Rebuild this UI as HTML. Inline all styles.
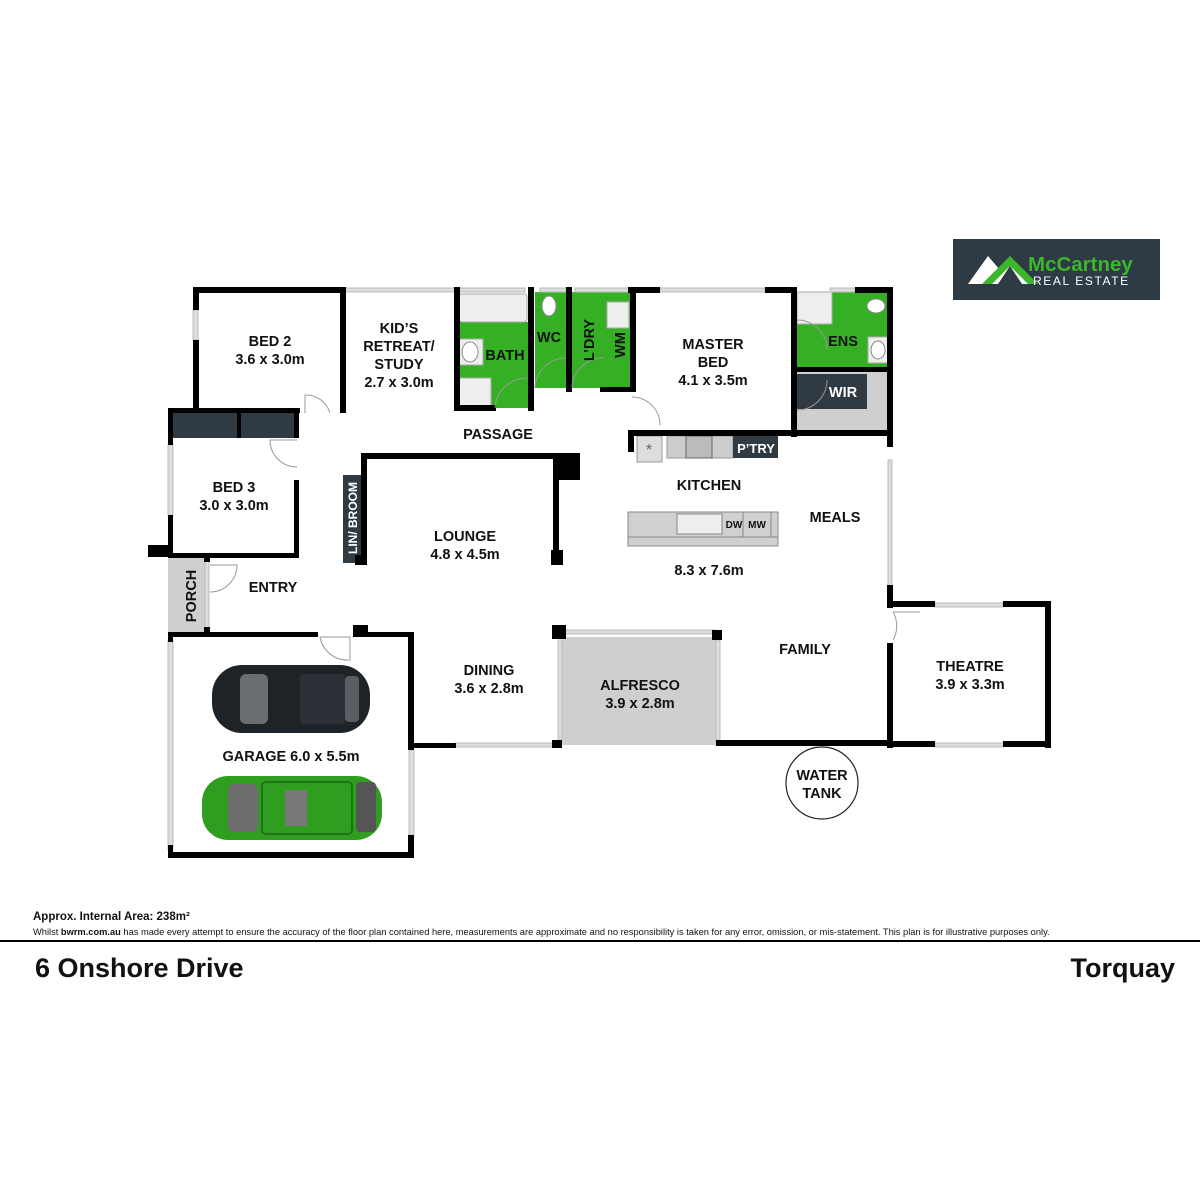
<!DOCTYPE html>
<html><head><meta charset="utf-8"><style>
html,body{margin:0;padding:0;background:#fff;}
svg{display:block;}
text{font-family:"Liberation Sans",Arial,sans-serif;font-weight:bold;fill:#111;}
.t{font-size:14.5px;text-anchor:middle;}
</style></head><body>
<svg width="1200" height="1200" viewBox="0 0 1200 1200" xmlns="http://www.w3.org/2000/svg">
<rect width="1200" height="1200" fill="#fff"/>
<rect x="458" y="322" width="72" height="86" fill="#35b025"/>
<rect x="535" y="292" width="31" height="96" fill="#35b025"/>
<rect x="572" y="292" width="60" height="96" fill="#35b025"/>
<rect x="797" y="292" width="93" height="75" fill="#35b025"/>
<rect x="797" y="372" width="93" height="58" fill="#cfcfcf"/>
<rect x="797" y="374" width="70" height="35" fill="#2f3a42"/>
<rect x="172" y="413" width="124" height="25" fill="#2f3a42"/>
<rect x="237" y="413" width="4" height="25" fill="#000"/>
<rect x="343" y="475" width="20" height="88" fill="#2f3a42"/>
<rect x="168" y="558" width="40" height="74" fill="#cfcfcf"/>
<rect x="562" y="637" width="154" height="108" fill="#cfcfcf"/>
<rect x="459" y="294" width="68" height="28" rx="3" fill="#eee" stroke="#aaa"/>
<rect x="459" y="339" width="24" height="26" fill="#eee" stroke="#aaa"/>
<ellipse cx="470" cy="352" rx="8" ry="10" fill="#fff" stroke="#888"/>
<rect x="459" y="378" width="32" height="30" fill="#eee" stroke="#aaa"/>
<ellipse cx="549" cy="306" rx="7" ry="10" fill="#fff" stroke="#888"/>
<rect x="607" y="302" width="22" height="26" fill="#eee" stroke="#aaa"/>
<rect x="797" y="292" width="35" height="32" fill="#eee" stroke="#aaa"/>
<ellipse cx="876" cy="306" rx="9" ry="7" fill="#fff" stroke="#888"/>
<rect x="868" y="337" width="21" height="26" fill="#eee" stroke="#aaa"/>
<ellipse cx="878" cy="350" rx="7" ry="9" fill="#fff" stroke="#888"/>
<rect x="637" y="436" width="25" height="26" fill="#ddd" stroke="#999"/>
<text x="649" y="455" style="font-size:16px;text-anchor:middle;font-weight:normal;fill:#666">*</text>
<rect x="667" y="436" width="66" height="22" fill="#ccc" stroke="#999"/>
<rect x="686" y="436" width="26" height="22" fill="#bbb" stroke="#666"/>
<rect x="733" y="436" width="45" height="22" fill="#2f3a42"/>
<rect x="628" y="512" width="150" height="34" fill="#d0d0d0" stroke="#888"/>
<line x1="628" y1="537" x2="778" y2="537" stroke="#888"/>
<rect x="677" y="514" width="45" height="20" fill="#eee" stroke="#888"/>
<line x1="743" y1="512" x2="743" y2="537" stroke="#888"/>
<line x1="771" y1="512" x2="771" y2="537" stroke="#888"/>
<g fill="#ddd" stroke="#bbb" stroke-width="1">
<rect x="345" y="288" width="110" height="4"/>
<rect x="455" y="288" width="70" height="4"/>
<rect x="540" y="288" width="30" height="4"/>
<rect x="575" y="288" width="55" height="4"/>
<rect x="660" y="288" width="105" height="4"/>
<rect x="830" y="288" width="25" height="4"/>
<rect x="193" y="310" width="5" height="30"/>
<rect x="168" y="445" width="5" height="70"/>
<rect x="168" y="640" width="5" height="210"/>
<rect x="409" y="750" width="5" height="85"/>
<rect x="455" y="743" width="100" height="4"/>
<rect x="565" y="630" width="150" height="4"/>
<rect x="558" y="640" width="4" height="100"/>
<rect x="716" y="640" width="4" height="100"/>
<rect x="888" y="460" width="4" height="140"/>
<rect x="935" y="603" width="68" height="4"/>
<rect x="935" y="743" width="68" height="4"/>
<rect x="205" y="560" width="4" height="70"/>
</g>
<g fill="#000">
<rect x="193" y="287" width="152" height="6"/>
<rect x="193" y="287" width="6" height="23"/>
<rect x="193" y="340" width="6" height="73"/>
<rect x="340" y="287" width="6" height="126"/>
<rect x="168" y="408" width="132" height="5"/>
<rect x="168" y="408" width="5" height="37"/>
<rect x="294" y="408" width="5" height="30"/>
<rect x="294" y="480" width="5" height="78"/>
<rect x="168" y="515" width="5" height="43"/>
<rect x="148" y="545" width="22" height="12"/>
<rect x="168" y="553" width="131" height="5"/>
<rect x="454" y="287" width="6" height="124"/>
<rect x="456" y="405" width="40" height="6"/>
<rect x="528" y="287" width="6" height="124"/>
<rect x="566" y="287" width="6" height="105"/>
<rect x="600" y="387" width="34" height="5"/>
<rect x="630" y="287" width="6" height="105"/>
<rect x="628" y="287" width="32" height="6"/>
<rect x="765" y="287" width="30" height="6"/>
<rect x="855" y="287" width="38" height="6"/>
<rect x="791" y="287" width="6" height="150"/>
<rect x="887" y="287" width="6" height="160"/>
<rect x="628" y="430" width="265" height="6"/>
<rect x="628" y="430" width="6" height="22"/>
<rect x="791" y="367" width="102" height="5"/>
<rect x="363" y="453" width="215" height="6"/>
<rect x="361" y="453" width="6" height="112"/>
<rect x="553" y="453" width="6" height="112"/>
<rect x="557" y="453" width="23" height="27"/>
<rect x="551" y="550" width="12" height="15"/>
<rect x="355" y="555" width="12" height="10"/>
<rect x="168" y="632" width="150" height="5"/>
<rect x="168" y="632" width="5" height="10"/>
<rect x="353" y="625" width="15" height="12"/>
<rect x="353" y="632" width="61" height="5"/>
<rect x="408" y="632" width="6" height="118"/>
<rect x="408" y="743" width="48" height="5"/>
<rect x="408" y="835" width="6" height="23"/>
<rect x="168" y="852" width="246" height="6"/>
<rect x="168" y="845" width="5" height="13"/>
<rect x="552" y="625" width="14" height="14"/>
<rect x="712" y="630" width="10" height="10"/>
<rect x="552" y="740" width="10" height="8"/>
<rect x="716" y="740" width="175" height="6"/>
<rect x="887" y="585" width="6" height="23"/>
<rect x="887" y="643" width="6" height="105"/>
<rect x="887" y="601" width="48" height="6"/>
<rect x="1003" y="601" width="48" height="6"/>
<rect x="1045" y="601" width="6" height="147"/>
<rect x="887" y="741" width="48" height="6"/>
<rect x="1003" y="741" width="48" height="6"/>
<rect x="204" y="556" width="6" height="6"/>
<rect x="204" y="627" width="6" height="6"/>
</g>
<g fill="none" stroke="#999" stroke-width="1">
<path d="M305 413 L305 395 A25 25 0 0 1 330 413"/>
<path d="M297 440 L270 440 A27 27 0 0 0 297 467"/>
<path d="M210 565 L237 565 A27 27 0 0 1 210 592"/>
<path d="M320 637 L350 637 L350 660 A28 28 0 0 1 320 637"/>
<path d="M495 408 A32 32 0 0 1 527 378"/>
<path d="M535 388 A31 31 0 0 1 566 358"/>
<path d="M572 388 A31 31 0 0 1 603 358"/>
<path d="M797 410 A30 30 0 0 0 827 380"/>
<path d="M797 320 A30 30 0 0 1 827 350"/>
<path d="M632 397 A28 28 0 0 1 660 425"/>
<path d="M893 612 A28 28 0 0 1 893 640 M893 612 L920 612"/>
</g>
<circle cx="822" cy="783" r="36" fill="#fff" stroke="#222" stroke-width="1.2"/>
<g>
<rect x="212" y="665" width="158" height="68" rx="30" fill="#1e2327"/>
<rect x="240" y="674" width="28" height="50" rx="6" fill="#6a6e72"/>
<rect x="300" y="674" width="45" height="50" rx="4" fill="#2a3035"/>
<rect x="345" y="676" width="14" height="46" rx="4" fill="#5a5e62"/>
<rect x="202" y="776" width="180" height="64" rx="26" fill="#2f9e20"/>
<rect x="228" y="784" width="30" height="48" rx="6" fill="#6d6d6d"/>
<rect x="285" y="790" width="22" height="36" fill="#777"/>
<rect x="262" y="782" width="90" height="52" rx="4" fill="none" stroke="#1f6f15" stroke-width="2"/>
<rect x="356" y="782" width="20" height="50" rx="4" fill="#555"/>
</g>
<text class="t" x="270" y="346">BED 2</text>
<text class="t" x="270" y="364">3.6 x 3.0m</text>
<text class="t" x="399" y="333">KID’S</text>
<text class="t" x="399" y="351">RETREAT/</text>
<text class="t" x="399" y="369">STUDY</text>
<text class="t" x="399" y="387">2.7 x 3.0m</text>
<text class="t" x="505" y="360">BATH</text>
<text class="t" x="549" y="342">WC</text>
<text class="t" transform="translate(594,340) rotate(-90)">L’DRY</text>
<text class="t" transform="translate(625,345) rotate(-90)">WM</text>
<text class="t" x="713" y="349">MASTER</text>
<text class="t" x="713" y="367">BED</text>
<text class="t" x="713" y="385">4.1 x 3.5m</text>
<text class="t" x="843" y="346">ENS</text>
<text class="t" x="843" y="397" style="fill:#fff">WIR</text>
<text class="t" x="756" y="453" style="fill:#fff;font-size:13px">P’TRY</text>
<text class="t" x="498" y="439">PASSAGE</text>
<text class="t" x="234" y="492">BED 3</text>
<text class="t" x="234" y="510">3.0 x 3.0m</text>
<text class="t" transform="translate(357,518) rotate(-90)" style="fill:#fff;font-size:12px">LIN/ BROOM</text>
<text class="t" x="465" y="541">LOUNGE</text>
<text class="t" x="465" y="559">4.8 x 4.5m</text>
<text class="t" x="709" y="490">KITCHEN</text>
<text class="t" x="835" y="522">MEALS</text>
<text class="t" x="709" y="575">8.3 x 7.6m</text>
<text class="t" x="734" y="528" style="font-size:10px">DW</text>
<text class="t" x="757" y="528" style="font-size:10px">MW</text>
<text class="t" x="273" y="592">ENTRY</text>
<text class="t" transform="translate(196,596) rotate(-90)">PORCH</text>
<text class="t" x="489" y="675">DINING</text>
<text class="t" x="489" y="693">3.6 x 2.8m</text>
<text class="t" x="640" y="690">ALFRESCO</text>
<text class="t" x="640" y="708">3.9 x 2.8m</text>
<text class="t" x="805" y="654">FAMILY</text>
<text class="t" x="970" y="671">THEATRE</text>
<text class="t" x="970" y="689">3.9 x 3.3m</text>
<text class="t" x="822" y="780">WATER</text>
<text class="t" x="822" y="798">TANK</text>
<text class="t" x="291" y="761">GARAGE 6.0 x 5.5m</text>
<rect x="953" y="239" width="207" height="61" fill="#2e3b44"/>
<path d="M968 284 L988 256 L1000 270 L1010 256 L1030 284 L1022 284 L1010 266 L998 284 Z" fill="#fff"/>
<path d="M982 284 L1010 256 L1038 284 L1028 284 L1010 266 L992 284 Z" fill="#3cb62a"/>
<text x="1028" y="271" style="font-size:20.5px;fill:#3cb62a">McCartney</text>
<text x="1033" y="285" style="font-size:12px;fill:#fff;font-weight:normal;letter-spacing:1.6px">REAL ESTATE</text>
<text x="33" y="920" style="font-size:11.5px">Approx. Internal Area: 238m²</text>
<text x="33" y="935" style="font-size:9.3px;font-weight:normal">Whilst <tspan style="font-weight:bold">bwrm.com.au</tspan> has made every attempt to ensure the accuracy of the floor plan contained here, measurements are approximate and no responsibility is taken for any error, omission, or mis-statement. This plan is for illustrative purposes only.</text>
<rect x="0" y="940" width="1200" height="2" fill="#000"/>
<text x="35" y="977" style="font-size:27px">6 Onshore Drive</text>
<text x="1175" y="977" style="font-size:27px;text-anchor:end">Torquay</text>
</svg>
</body></html>
